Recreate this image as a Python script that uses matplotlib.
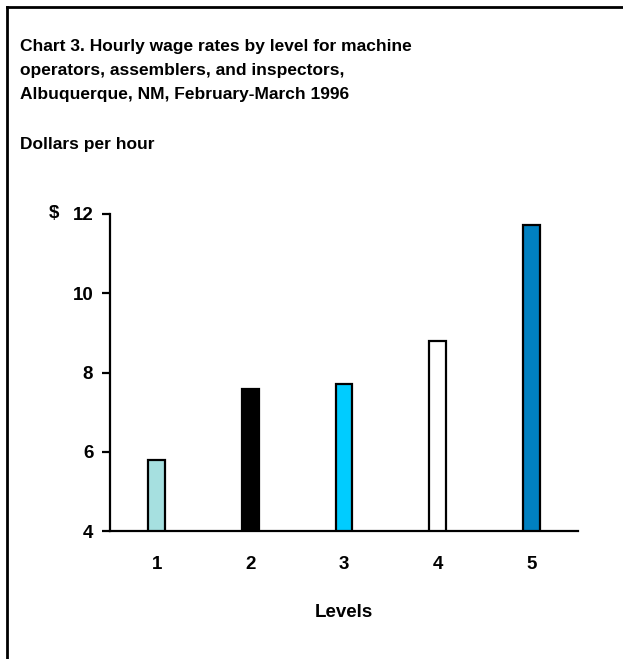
import matplotlib
matplotlib.use('Agg')
import matplotlib.pyplot as plt
from matplotlib.lines import Line2D

plt.rcParams['font.family'] = ['Liberation Sans', 'DejaVu Sans']
plt.rcParams['font.weight'] = 'bold'

# data
levels = ['1', '2', '3', '4', '5']
wages = [5.79, 7.58, 7.70, 8.80, 11.72]
bar_colors = ['#a6e0e0', '#000000', '#00ccff', '#ffffff', '#0080c0']

W, H = 623, 659
fig = plt.figure(figsize=(W / 100, H / 100), dpi=100)

# plot area
ax = fig.add_axes([110 / W, (H - 531) / H, 468 / W, 317 / H])
x = list(range(1, len(levels) + 1))
ax.bar(x, [v - 4 for v in wages], bottom=4, width=0.18, color=bar_colors,
       edgecolor='black', linewidth=1.6, zorder=3)

ax.set_xlim(0.5, 5.5)
ax.set_ylim(4, 12)
ax.set_yticks([4, 6, 8, 10, 12])
ax.set_xticks(x)
ax.set_xticklabels(levels)
for s in ['top', 'right']:
    ax.spines[s].set_visible(False)
for s in ['left', 'bottom']:
    ax.spines[s].set_linewidth(1.6)
ax.tick_params(axis='y', length=6, width=1.6, labelsize=13.5, pad=6)
ax.tick_params(axis='x', length=0, labelsize=13.5, pad=18)
ax.set_xlabel('Levels', fontsize=13.5, fontweight='bold', labelpad=22)

# $ sign next to top tick
ax.text(-0.109, 12, '$', transform=ax.get_yaxis_transform(), ha='right',
        va='center', fontsize=13.5, fontweight='bold')

# titles
fs = 12.5
fig.text(20 / W, 1 - 46 / H, 'Chart 3. Hourly wage rates by level for machine',
         fontsize=fs, fontweight='bold', va='center')
fig.text(20 / W, 1 - 71 / H, 'operators, assemblers, and inspectors,',
         fontsize=fs, fontweight='bold', va='center')
fig.text(20 / W, 1 - 95 / H, 'Albuquerque, NM, February-March 1996',
         fontsize=fs, fontweight='bold', va='center')
fig.text(20 / W, 1 - 145 / H, 'Dollars per hour',
         fontsize=fs, fontweight='bold', va='center')

# outer frame (top and left edges visible)
fig.add_artist(Line2D([7 / W, 1], [1 - 7 / H, 1 - 7 / H], color='black', linewidth=2))
fig.add_artist(Line2D([7 / W, 7 / W], [0, 1 - 7 / H], color='black', linewidth=2))

fig.savefig('out.png', dpi=100)
